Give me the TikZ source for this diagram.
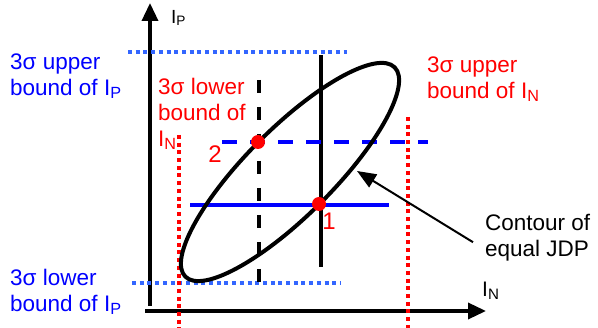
\documentclass[tikz,border=0pt]{standalone}
\usepackage{fontspec}
\setmainfont{Liberation Sans}
\usetikzlibrary{arrows.meta}
\definecolor{boundblue}{RGB}{0,0,255}
\definecolor{dotblue}{RGB}{51,102,255}
\definecolor{boundred}{RGB}{255,0,0}
\newcommand{\lsub}[1]{\raisebox{-0.1em}{\scalebox{0.72}{#1}}}

\begin{document}
\begin{tikzpicture}[
  x=1pt, y=-1pt,
  every node/.style={inner sep=0pt},
  lbl/.style={anchor=base west, align=left, font=\fontsize{22.5}{26}\selectfont},
  axislbl/.style={anchor=base west},
  axis/.style={line width=3.5pt, -{Triangle[length=18pt, width=16pt]}},
  sigmaline/.style={line width=3.5pt, dash pattern=on 4pt off 3.7pt},
  guide/.style={line width=4pt},
  marker/.style={circle, fill=boundred, minimum size=14pt},
  pointer/.style={line width=2pt, -{Triangle[length=19pt, width=15pt]}}
]
  \useasboundingbox (0,0) rectangle (598,328);

  % Axes
  \draw[axis] (150,306) -- (150,3);
  \draw[axis] (145,311) -- (486,311);
  \node[axislbl, font=\fontsize{19}{22}\selectfont] (ylbl) at (171,24) {I\lsub{P}};
  \node[axislbl, font=\fontsize{21}{24}\selectfont] (xlbl) at (482,297) {I\lsub{N}};

  % 3 sigma bounds (labels anchored at their last line)
  \draw[sigmaline, dotblue] (128,52) -- (347,52);
  \draw[sigmaline, dotblue] (132,283) -- (340,283);
  \draw[sigmaline, boundred] (179,135) -- (179,328);
  \draw[sigmaline, boundred] (408,117) -- (408,328);

  \node[lbl, boundblue] (ipup) at (10,96) {3σ upper\\bound of I\lsub{P}};
  \node[lbl, boundblue] (iplow) at (10,312) {3σ lower\\bound of I\lsub{P}};
  \node[lbl, boundred] (inlow) at (158,147) {3σ lower\\bound of\\I\lsub{N}};
  \node[lbl, boundred] (inup) at (427,99) {3σ upper\\bound of I\lsub{N}};

  % Lines through points 1 and 2
  \draw[guide, dash pattern=on 13pt off 14pt] (259,80) -- (259,291);
  \draw[guide] (321,55) -- (321,267);
  \draw[guide, boundblue, dash pattern=on 15pt off 13pt] (222,142) -- (428,142);
  \draw[guide, boundblue, line width=3.5pt] (190,205) -- (389,205);

  % Contour of equal JDP
  \draw[guide, shift={(290,172)}, rotate=45] (0,0) ellipse [x radius=148, y radius=43.5];

  \node[marker] (pt2) at (258,142) {};
  \node[marker] (pt1) at (319,204) {};
  \node[font=\fontsize{24}{26}\selectfont, boundred] (num2) at (215,154) {2};
  \node[font=\fontsize{24}{26}\selectfont, boundred] (num1) at (329,221) {1};

  \node[lbl] (jdp) at (485,257) {Contour of\\equal JDP};
  \coordinate (jdptip) at (357,171);
  \draw[pointer] ([xshift=-12pt, yshift=-4pt]jdp.west) -- (jdptip);

\end{tikzpicture}
\end{document}
